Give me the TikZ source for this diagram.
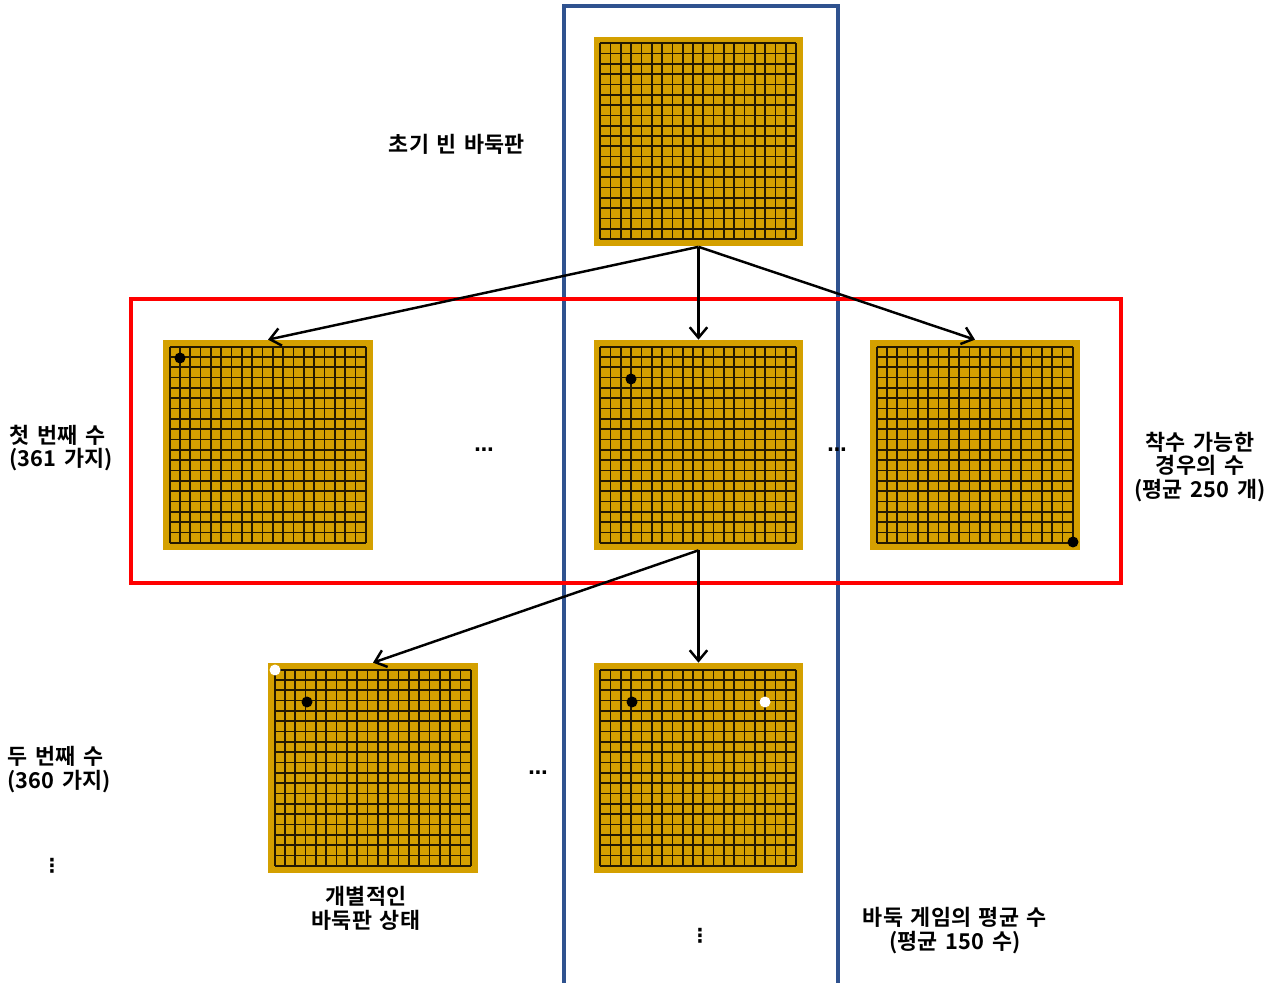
\documentclass[tikz,border=0pt]{standalone}
\usepackage{fontspec}
\setmainfont{Noto Sans CJK KR}[BoldFont={Noto Sans CJK KR Bold}, WordSpace=1.6]
\newfontfamily\dotfont{DejaVu Sans}
\usetikzlibrary{arrows.meta}
\definecolor{gold}{RGB}{212,160,0}
\definecolor{gridc}{RGB}{35,25,0}
\definecolor{frameblue}{RGB}{47,82,143}
\definecolor{framered}{RGB}{255,0,0}
\begin{document}
\begin{tikzpicture}[x=0.02cm,y=-0.02cm,
  board/.style={minimum width=4.2cm, minimum height=4.2cm, inner sep=0pt, fill=gold, draw=none},
  gridline/.style={gridc, line width=0.95pt},
  bstone/.style={circle, inner sep=0pt, minimum size=0.22cm, fill=black},
  wstone/.style={circle, inner sep=0pt, minimum size=0.22cm, fill=white},
  arr/.style={-{Straight Barb[length=6pt,width=10pt]}, line width=1.4pt, black},
  frame/.style={line width=2.2pt},
  lbl/.style={font=\bfseries\fontsize{12.4}{13.6}\selectfont, align=center, inner sep=0pt},
  dots/.style={font=\dotfont\bfseries\fontsize{11}{12}\selectfont, inner sep=0pt}
]
\useasboundingbox (0,0) rectangle (1276,983);

% frames
\draw[frame, frameblue] (564,983) -- (564,6) -- (838,6) -- (838,983);
\draw[frame, framered] (131,299) rectangle (1121,583);

% boards
\node[board] (b0) at (698.5,141.5) {};
\node[board] (b1) at (268,445) {};
\node[board] (b2) at (698.5,445) {};
\node[board] (b3) at (975,445) {};
\node[board] (b4) at (373,768) {};
\node[board] (b5) at (698.5,768) {};

% grids
\foreach \b in {b0,b1,b2,b3,b4,b5}{
  \begin{scope}[shift={(\b.north west)}]
    \foreach \i in {0,...,19}{
      \draw[gridline] (7+\i*10.316,7) -- (7+\i*10.316,203);
      \draw[gridline] (7,7+\i*10.316) -- (203,7+\i*10.316);
    }
  \end{scope}
}

% stones
\node[bstone] (s1) at (180,358) {};
\node[bstone] (s2) at (631,379) {};
\node[bstone] (s3) at (1073,542) {};
\node[wstone] (s4) at (275,670) {};
\node[bstone] (s5) at (307,702) {};
\node[bstone] (s6) at (632,702) {};
\node[wstone] (s7) at (765,702) {};

% arrows
\draw[arr] (b0.south) -- (b1.north);
\draw[arr] (b0.south) -- (b2.north);
\draw[arr] (b0.south) -- (b3.north);
\draw[arr] (b2.south) -- (b4.north);
\draw[arr] (b2.south) -- (b5.north);

% labels
\node[lbl] (t0) at (457,144) {초기 빈 바둑판};
\node[lbl, align=left] (t1) at (61,448) {첫 번째 수\\(361 가지)};
\node[lbl] (t2) at (1200,467) {착수 가능한\\경우의 수\\(평균 250 개)};
\node[lbl, align=left] (t3) at (59,770) {두 번째 수\\(360 가지)};
\node[lbl] (t4) at (366,908) {개별적인\\바둑판 상태};
\node[lbl] (t5) at (955,931) {바둑 게임의 평균 수\\(평균 150 수)};

% ellipses
\node[dots] (d1) at (484,450) {…};
\node[dots] (d2) at (837,450) {…};
\node[dots] (d3) at (538,773) {…};
\node[dots] (d4) at (52,866) {⋮};
\node[dots] (d5) at (700,936) {⋮};
\end{tikzpicture}
\end{document}
